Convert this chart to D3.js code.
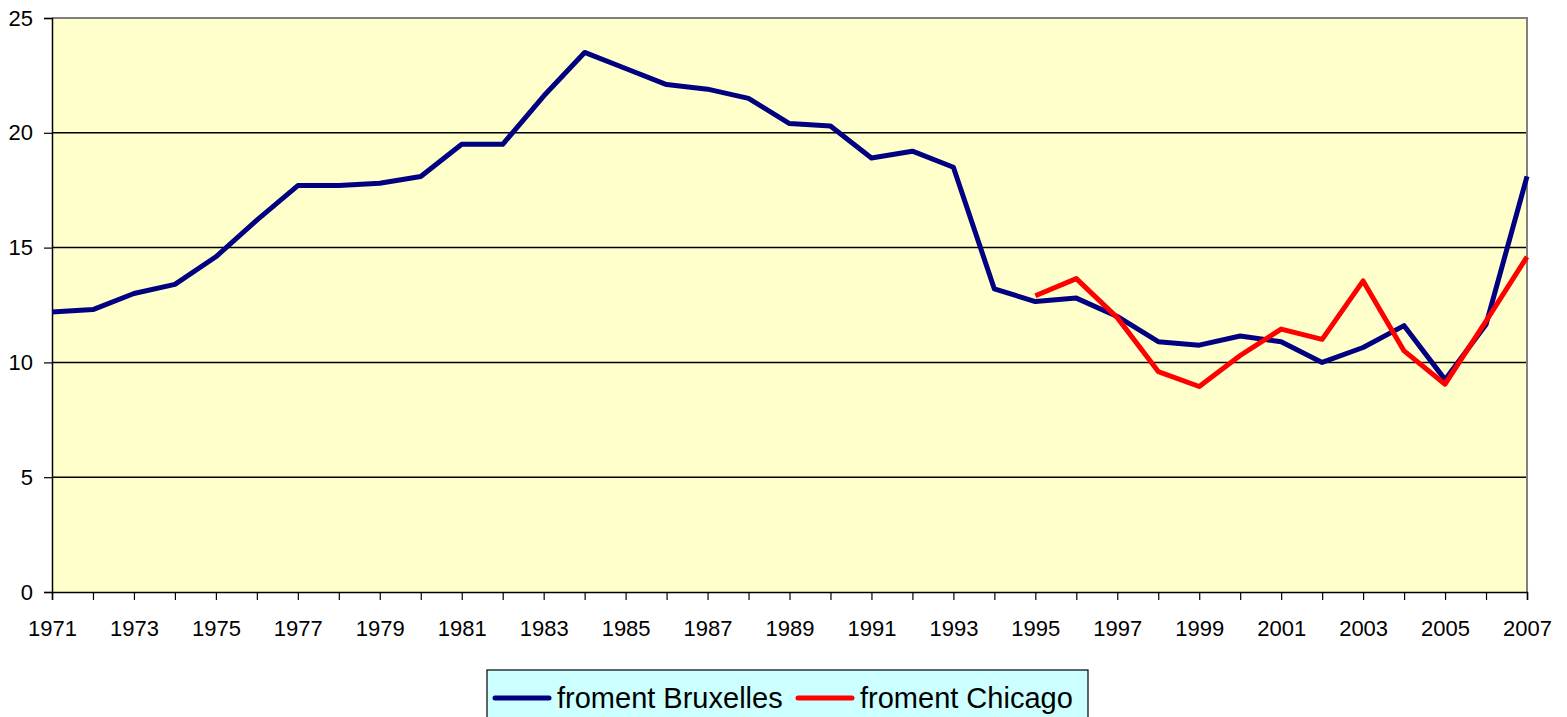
<!DOCTYPE html>
<html>
<head>
<meta charset="utf-8">
<script src="https://cdn.jsdelivr.net/npm/d3@7"></script>
<style>
  body { margin: 0; background: #fff; }
  svg { display: block; font-family: "Liberation Sans", Arial, sans-serif; }
</style>
</head>
<body>
<div id="chart"></div>
<script>
/* Data */
const years = d3.range(1971, 2008);
const bruxelles = [12.2, 12.3, 13.0, 13.4, 14.6, 16.2, 17.7, 17.7, 17.8, 18.1,
  19.5, 19.5, 21.6, 23.5, 22.8, 22.1, 21.9, 21.5, 20.4, 20.3,
  18.9, 19.2, 18.5, 13.2, 12.65, 12.8, 12.0, 10.9, 10.75, 11.15,
  10.9, 10.0, 10.65, 11.6, 9.25, 11.65, 18.1];
const chicagoYears = d3.range(1995, 2008);
const chicago = [12.9, 13.65, 11.95, 9.6, 8.95, 10.3, 11.45, 11.0, 13.55, 10.5, 9.05, 11.8, 14.6];
const yTicks = [0, 5, 10, 15, 20, 25];
const seriesNames = ["froment Bruxelles", "froment Chicago"];
const seriesColors = ["#000080", "#ff0000"];

const W = 1567, H = 717;
const m = { left: 52, right: 40, top: 18, bottom: 124 };

const svg = d3.select("#chart").append("svg")
  .attr("width", W).attr("height", H);

const x = d3.scaleLinear().domain([1971, 2007]).range([m.left, W - m.right]);
const y = d3.scaleLinear().domain([0, 25]).range([H - m.bottom - 1, m.top]);

/* plot background */
svg.append("rect")
  .attr("x", x(1971)).attr("y", y(25))
  .attr("width", x(2007) - x(1971)).attr("height", y(0) - y(25))
  .style("fill", "#ffffcc");

/* grid lines */
svg.selectAll(".grid")
  .data(yTicks.filter(d => d > 0 && d < 25))
  .enter().append("line")
  .attr("x1", x(1971)).attr("x2", x(2007))
  .attr("y1", d => y(d)).attr("y2", d => y(d))
  .style("stroke", "#000").style("stroke-width", 1.5);

/* top and right border */
svg.append("path")
  .attr("d", "M" + x(1971) + "," + y(25) + "H" + x(2007) + "V" + y(0))
  .style("fill", "none").style("stroke", "#808080").style("stroke-width", 2);

/* y axis */
const yAxis = svg.append("g")
  .attr("transform", "translate(" + x(1971) + ",0)")
  .call(d3.axisLeft(y).tickValues(yTicks).tickSize(8).tickPadding(11));
/* x axis */
const xAxis = svg.append("g")
  .attr("transform", "translate(0," + y(0) + ")")
  .call(d3.axisBottom(x).tickValues(years).tickSize(8).tickPadding(20)
    .tickFormat(d => (d - 1971) % 2 === 0 ? d : ""));

[yAxis, xAxis].forEach(g => {
  g.selectAll("path.domain").style("stroke", "#000").style("stroke-width", 1.5);
  g.selectAll(".tick line").style("stroke", "#000").style("stroke-width", 1.2);
  g.selectAll("text").style("font-size", "22px").style("fill", "#000")
    .style("font-family", "'Liberation Sans', Arial, sans-serif");
});

/* lines */
const line = d3.line().x(d => x(d[0])).y(d => y(d[1]));
svg.append("path")
  .datum(years.map((yr, i) => [yr, bruxelles[i]]))
  .attr("d", line)
  .style("fill", "none").style("stroke", seriesColors[0])
  .style("stroke-width", 5).style("stroke-linejoin", "round");
svg.append("path")
  .datum(chicagoYears.map((yr, i) => [yr, chicago[i]]))
  .attr("d", line)
  .style("fill", "none").style("stroke", seriesColors[1])
  .style("stroke-width", 5).style("stroke-linejoin", "round");

/* legend */
const lg = svg.append("g").attr("transform", "translate(487,670)");
lg.append("rect")
  .attr("width", 601).attr("height", 60)
  .style("fill", "#ccffff").style("stroke", "#000").style("stroke-width", 1.2);
const items = lg.selectAll(".legend-item")
  .data(seriesNames)
  .enter().append("g")
  .attr("class", "legend-item")
  .attr("transform", (d, i) => "translate(" + (i === 0 ? 8 : 311) + ",28)");
items.append("line")
  .attr("x1", 0).attr("x2", 54).attr("y1", 0).attr("y2", 0)
  .style("stroke", (d, i) => seriesColors[i])
  .style("stroke-width", 5).style("stroke-linecap", "round");
items.append("text")
  .attr("x", 62).attr("y", 10)
  .style("font-size", "29px")
  .text(d => d);
</script>
</body>
</html>
